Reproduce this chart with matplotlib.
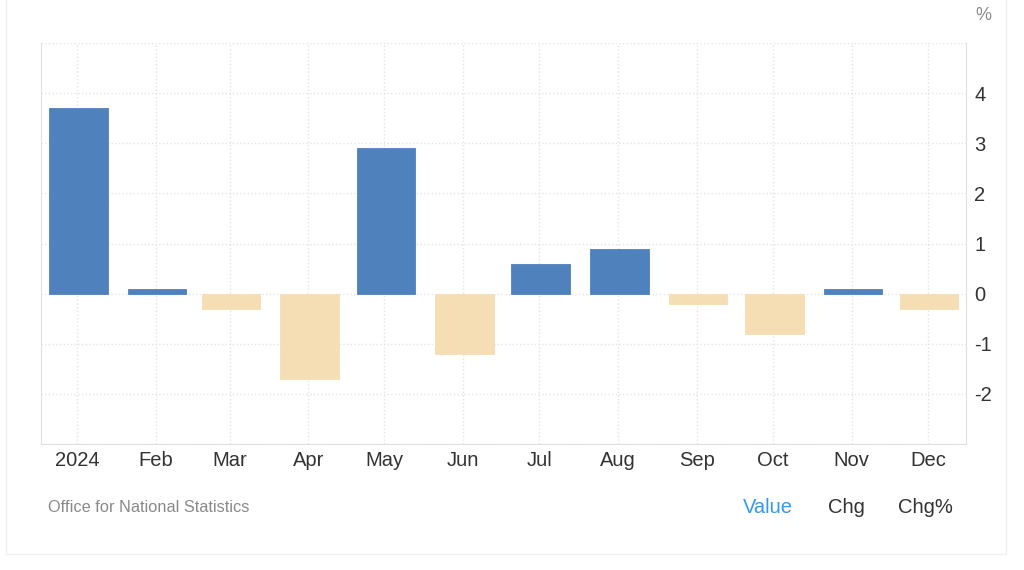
import numpy as np
import matplotlib.pyplot as plt
import matplotlib.dates as mdates
from matplotlib.patches import Rectangle

# monthly change, % (2024)
months = ["2024-01-01", "2024-02-01", "2024-03-01", "2024-04-01", "2024-05-01", "2024-06-01",
          "2024-07-01", "2024-08-01", "2024-09-01", "2024-10-01", "2024-11-01", "2024-12-01"]
month_labels = ["2024", "Feb", "Mar", "Apr", "May", "Jun", "Jul", "Aug", "Sep", "Oct", "Nov", "Dec"]
values = [3.7, 0.1, -0.3, -1.7, 2.9, -1.2, 0.6, 0.9, -0.2, -0.8, 0.1, -0.3]
y_ticks = [-3, -2, -1, 0, 1, 2, 3, 4, 5]
y_tick_labels = ["", "-2", "-1", "0", "1", "2", "3", "4", ""]

BLUE = "#4f81bd"
BEIGE = "#f5deb3"
GRID = "#e3e3e3"
TEXT = "#333333"

plt.rcParams['font.family'] = ['Arial', 'Liberation Sans', 'DejaVu Sans']

fig = plt.figure(figsize=(10.24, 5.70), dpi=100)
ax = fig.add_axes([0.0397, 0.221, 0.9037, 0.7036])

# light frame around the whole chart
fig.patches.append(Rectangle((0.006, 0.028), 0.976, 0.985, transform=fig.transFigure,
                             fill=False, edgecolor="#f0f0f0", linewidth=1))

x = mdates.date2num(np.array(months, dtype="datetime64[D]"))
colors = [BLUE if v >= 0 else BEIGE for v in values]
ax.bar(x + 0.5, values, width=23, color=colors, edgecolor=colors, linewidth=0.6, zorder=3)

ax.set_xlim(x[0] - 14.4, x[-1] + 15)
ax.set_ylim(-3, 5)

ax.set_xticks(x)
ax.set_xticklabels(month_labels)
ax.set_yticks(y_ticks)
ax.set_yticklabels(y_tick_labels)

ax.yaxis.tick_right()
ax.tick_params(axis="both", length=0, labelsize=14.5, labelcolor=TEXT)
ax.tick_params(axis="x", pad=5)
ax.tick_params(axis="y", pad=6)

ax.grid(True, color=GRID, linestyle=":", linewidth=1, zorder=0)
for side in ["left", "right", "bottom"]:
    ax.spines[side].set_color("#e0e0e0")
ax.spines["top"].set_visible(False)

fig.text(0.960, 0.972, "%", fontsize=13, color="#8a8a8a", ha="center", va="center")
fig.text(0.047, 0.109, "Office for National Statistics", fontsize=11.8, color="#8a8a8a",
         ha="left", va="center")
fig.text(0.750, 0.109, "Value", fontsize=14.5, color="#3398f2", ha="center", va="center")
fig.text(0.827, 0.109, "Chg", fontsize=14.5, color=TEXT, ha="center", va="center")
fig.text(0.904, 0.109, "Chg%", fontsize=14.5, color=TEXT, ha="center", va="center")

fig.savefig("out.png", dpi=100)
